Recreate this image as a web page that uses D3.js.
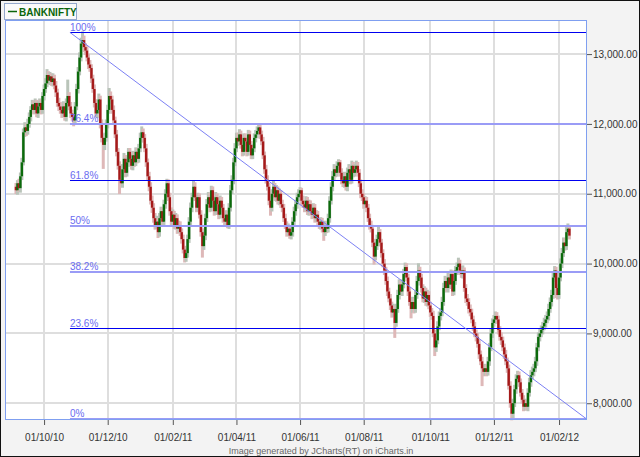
<!DOCTYPE html>
<html><head><meta charset="utf-8">
<script src="https://cdn.jsdelivr.net/npm/d3@7"></script>
<style>html,body{margin:0;padding:0;background:#fff}svg{display:block}</style>
</head><body>
<svg id="c" width="640" height="457"></svg>
<script>
// ---------------- DATA ----------------
const seriesName = "BANKNIFTY";
const firstTradingDay = "2010-09-06"; // candles are consecutive weekdays from here
const opens = [
11100,11050,11150,11080,11250,11450,11880,11950,11900,12000,
12100,12200,12280,12200,12300,12150,12250,12300,12200,12400,
12500,12580,12700,12620,12680,12600,12650,12550,12450,12300,
12250,12200,12150,12250,12100,12300,12400,12250,12150,12100,
12050,12250,12500,12750,12950,13150,13200,13100,13050,12950,
12850,12800,12650,12500,12300,12150,12200,12350,12000,11800,
11700,11800,12000,12200,12400,12350,12200,12050,11850,11600,
11400,11200,11150,11350,11500,11300,11450,11600,11500,11400,
11550,11450,11600,11500,11650,11800,11880,11800,11650,11450,
11250,11100,10900,10800,10650,10550,10600,10450,10650,10750,
10600,10850,11000,11150,10950,10750,10600,10700,10550,10650,
10500,10550,10450,10350,10200,10080,10150,10350,10600,10800,
10950,11100,10950,10800,10950,10700,10450,10250,10400,10650,
10850,10950,10800,11050,10900,10750,10950,10850,10700,10900,
10800,10650,10600,10700,10550,10800,11050,11200,11450,11650,
11800,11750,11850,11700,11600,11800,11750,11600,11850,11700,
11550,11650,11800,11850,11900,11950,11850,11750,11550,11350,
11200,11100,10900,10800,11000,11100,10950,11050,10900,11000,
10850,10800,10650,10550,10450,10500,10400,10450,10600,10750,
10850,10950,11000,11050,10900,10850,10800,10900,10750,10850,
10750,10700,10800,10650,10700,10600,10550,10600,10500,10450,
10550,10500,10650,10900,11100,11250,11350,11300,11400,11450,
11300,11200,11150,11250,11100,11300,11350,11200,11400,11300,
11350,11400,11300,11150,11000,10950,10850,10900,10800,10650,
10550,10500,10300,10100,10250,10350,10450,10300,10150,10000,
9900,9750,9600,9500,9400,9300,9350,9150,9350,9550,
9700,9600,9700,9850,9950,9800,9600,9450,9350,9450,
9350,9550,9750,9900,9800,9650,9500,9600,9450,9550,
9400,9300,9250,9000,8800,8900,9100,9250,9300,9450,
9650,9750,9650,9800,9700,9850,9600,9750,9900,9950,
10000,9900,9850,9900,9650,9500,9450,9350,9300,9200,
9100,9000,8950,8850,8700,8600,8500,8450,8500,8450,
8600,8800,9000,9150,9200,9250,9200,9050,8950,8900,
8800,8700,8600,8500,8250,8000,7850,8000,8200,8350,
8400,8300,8150,8050,7950,8000,7950,8150,8300,8400,
8450,8500,8600,8800,8950,9000,9050,9100,9150,9200,
9250,9350,9450,9550,9800,9900,9650,9550,9800,10000,
10150,10300,10250,10450,10500];
const highs = [
11140,11180,11200,11290,11500,11920,12010,11990,12060,12150,
12240,12330,12320,12350,12330,12310,12350,12340,12440,12550,
12640,12770,12740,12730,12710,12710,12690,12600,12490,12360,
12300,12240,12310,12290,12350,12620,12440,12300,12190,12130,
12300,12560,12800,13010,13220,13310,13250,13140,13100,12990,
12900,12840,12690,12550,12340,12250,12420,12390,12050,11840,
11860,12050,12260,12500,12450,12390,12250,12090,11900,11640,
11450,11250,11410,11570,11540,11510,11640,11640,11550,11600,
11590,11650,11640,11700,11860,11950,11920,11840,11700,11490,
11300,11150,10960,10850,10710,10670,10640,10710,10800,10790,
10900,11050,11200,11190,11000,10790,10760,10740,10710,10690,
10600,10590,10490,10400,10240,10200,10400,10650,10860,11000,
11180,11150,10990,11000,10990,10750,10490,10450,10700,10910,
11010,11000,11100,11090,10950,11010,10990,10900,10960,10940,
10840,10700,10750,10740,10850,11110,11250,11500,11710,11860,
11860,11910,11890,11750,11850,11850,11790,11900,11890,11740,
11700,11850,11900,11950,11990,11980,11890,11800,11590,11400,
11250,11140,10950,11050,11180,11140,11110,11090,11060,11040,
10900,10840,10700,10590,10560,10540,10500,10650,10800,10900,
11000,11050,11080,11070,10960,10890,10950,10940,10900,10890,
10790,10850,10840,10750,10740,10640,10650,10640,10540,10600,
10590,10700,10950,11150,11310,11410,11390,11450,11480,11470,
11350,11250,11300,11290,11360,11410,11390,11460,11440,11410,
11460,11440,11340,11190,11050,10990,10950,10940,10840,10700,
10600,10540,10340,10300,10400,10510,10480,10340,10190,10050,
9940,9800,9640,9550,9440,9410,9390,9410,9610,9760,
9740,9760,9910,10000,9990,9840,9650,9490,9510,9490,
9600,9810,9990,9940,9840,9690,9660,9640,9610,9590,
9440,9350,9310,9040,8950,9160,9300,9350,9510,9710,
9810,9790,9860,9840,9900,9890,9800,9950,10000,10070,
10040,9950,9960,9930,9690,9550,9490,9400,9340,9240,
9150,9040,8990,8900,8740,8650,8540,8550,8540,8650,
8850,9050,9200,9250,9300,9290,9240,9090,9000,8940,
8840,8750,8640,8540,8300,8040,8050,8250,8400,8450,
8440,8340,8190,8100,8050,8040,8200,8350,8460,8510,
8550,8650,8850,9000,9060,9100,9150,9210,9250,9300,
9410,9500,9610,9860,9950,9940,9690,9850,10060,10210,
10360,10350,10510,10560,10530];
const lows = [
11010,11000,11040,11030,11210,11420,11830,11840,11860,11960,
12050,12160,12150,12160,12110,12100,12210,12150,12160,12350,
12460,12540,12580,12570,12560,12550,12510,12400,12260,12200,
12160,12100,12110,12060,12050,12260,12210,12100,12060,11980,
12010,12210,12450,12710,12910,13100,13040,13000,12910,12800,
12760,12600,12460,12250,12110,12100,12160,11950,11750,11370,
11640,11760,11950,12160,12300,12160,12000,11810,11550,11360,
11010,11110,11100,11310,11250,11260,11400,11460,11360,11350,
11400,11410,11450,11460,11610,11750,11750,11610,11400,11210,
11050,10860,10740,10600,10500,10510,10380,10400,10610,10550,
10560,10800,10960,10910,10700,10560,10550,10510,10500,10440,
10450,10410,10300,10160,10030,10040,10100,10310,10560,10750,
10910,10910,10750,10760,10660,10400,10100,10210,10350,10610,
10810,10750,10760,10860,10700,10710,10800,10650,10660,10750,
10600,10560,10550,10520,10510,10760,11010,11150,11410,11610,
11700,11710,11660,11550,11560,11700,11550,11560,11650,11510,
11510,11610,11750,11810,11860,11800,11710,11510,11300,11160,
11060,10850,10700,10760,10950,10910,10900,10860,10850,10810,
10750,10610,10510,10400,10410,10370,10360,10400,10560,10700,
10800,10910,10960,10850,10810,10750,10760,10710,10700,10710,
10650,10660,10600,10610,10550,10510,10500,10460,10340,10410,
10450,10460,10600,10860,11050,11210,11250,11260,11350,11260,
11150,11110,11100,11060,11050,11260,11150,11160,11250,11260,
11300,11260,11110,10950,10910,10800,10810,10750,10610,10500,
10460,10250,10000,10060,10210,10300,10260,10100,9960,9850,
9710,9550,9460,9350,9240,9250,8950,9110,9310,9500,
9560,9550,9660,9800,9760,9550,9410,9230,9310,9300,
9310,9510,9700,9760,9600,9460,9450,9410,9400,9360,
9250,9210,8960,8690,8750,8860,9060,9200,9260,9410,
9600,9610,9600,9660,9650,9550,9560,9710,9850,9910,
9850,9810,9800,9610,9450,9410,9300,9260,9160,9050,
8960,8900,8810,8650,8560,8260,8400,8410,8400,8410,
8550,8760,8950,9110,9150,9160,9000,8910,8850,8760,
8650,8560,8450,8210,7950,7770,7800,7960,8150,8310,
8250,8110,8010,7900,7910,7910,7900,8110,8250,8360,
8400,8460,8550,8760,8900,8960,9000,9060,9100,9160,
9200,9310,9400,9510,9750,9520,9500,9510,9760,9950,
10110,10200,10210,10400,10360];
const closes = [
11050,11150,11080,11250,11450,11880,11950,11900,12000,12100,
12200,12280,12200,12300,12150,12250,12300,12200,12400,12500,
12580,12700,12620,12680,12600,12650,12550,12450,12300,12250,
12200,12150,12250,12100,12300,12400,12250,12150,12100,12050,
12250,12500,12750,12950,13150,13200,13100,13050,12950,12850,
12800,12650,12500,12300,12150,12200,12350,12000,11800,11700,
11800,12000,12200,12400,12350,12200,12050,11850,11600,11400,
11200,11150,11350,11500,11300,11450,11600,11500,11400,11550,
11450,11600,11500,11650,11800,11880,11800,11650,11450,11250,
11100,10900,10800,10650,10550,10600,10450,10650,10750,10600,
10850,11000,11150,10950,10750,10600,10700,10550,10650,10500,
10550,10450,10350,10200,10080,10150,10350,10600,10800,10950,
11100,10950,10800,10950,10700,10450,10250,10400,10650,10850,
10950,10800,11050,10900,10750,10950,10850,10700,10900,10800,
10650,10600,10700,10550,10800,11050,11200,11450,11650,11800,
11750,11850,11700,11600,11800,11750,11600,11850,11700,11550,
11650,11800,11850,11900,11950,11850,11750,11550,11350,11200,
11100,10900,10800,11000,11100,10950,11050,10900,11000,10850,
10800,10650,10550,10450,10500,10400,10450,10600,10750,10850,
10950,11000,11050,10900,10850,10800,10900,10750,10850,10750,
10700,10800,10650,10700,10600,10550,10600,10500,10450,10550,
10500,10650,10900,11100,11250,11350,11300,11400,11450,11300,
11200,11150,11250,11100,11300,11350,11200,11400,11300,11350,
11400,11300,11150,11000,10950,10850,10900,10800,10650,10550,
10500,10300,10100,10250,10350,10450,10300,10150,10000,9900,
9750,9600,9500,9400,9300,9350,9150,9350,9550,9700,
9600,9700,9850,9950,9800,9600,9450,9350,9450,9350,
9550,9750,9900,9800,9650,9500,9600,9450,9550,9400,
9300,9250,9000,8800,8900,9100,9250,9300,9450,9650,
9750,9650,9800,9700,9850,9600,9750,9900,9950,10000,
9900,9850,9900,9650,9500,9450,9350,9300,9200,9100,
9000,8950,8850,8700,8600,8500,8450,8500,8450,8600,
8800,9000,9150,9200,9250,9200,9050,8950,8900,8800,
8700,8600,8500,8250,8000,7850,8000,8200,8350,8400,
8300,8150,8050,7950,8000,7950,8150,8300,8400,8450,
8500,8600,8800,8950,9000,9050,9100,9150,9200,9250,
9350,9450,9550,9800,9900,9650,9550,9800,10000,10150,
10300,10250,10450,10500,10400];
const tickDates  = ["2010-10-01","2010-12-01","2011-02-01","2011-04-01","2011-06-01","2011-08-01","2011-10-01","2011-12-01","2012-02-01"];
const tickLabels = ["01/10/10","01/12/10","01/02/11","01/04/11","01/06/11","01/08/11","01/10/11","01/12/11","01/02/12"];
const yTicks = [8000, 9000, 10000, 11000, 12000, 13000];
const fibRatios = [1, 0.764, 0.618, 0.5, 0.382, 0.236, 0];
const fibLabels = ["100%", "76.4%", "61.8%", "50%", "38.2%", "23.6%", "0%"];
const fibAnchorIdx = [36.5, 385.9]; // start / end of the drawn Fibonacci tool (candle index)
const footerText = "Image generated by JCharts(RT) on iCharts.in";

// ---------------- LAYOUT / STYLE ----------------
const W = 640, H = 457;
const plot = {l: 5, t: 20, r: 587, b: 420};
const xPad = [7.4, 11.9];
const yDomain = [7760, 13488];
const upCol = "#0b6a0b", dnCol = "#a51a1a";
const fibDark = [true, false, true, false, false, true, false];

const svg = d3.select("#c");
const N = closes.length;

// trading-day dates (weekdays)
const dates = [];
{ let d = new Date(firstTradingDay + "T00:00:00Z");
  while (dates.length < N) { const wd = d.getUTCDay(); if (wd !== 0 && wd !== 6) dates.push(new Date(d)); d.setUTCDate(d.getUTCDate() + 1); } }
const tickIdx = tickDates.map(s => { const t = new Date(s + "T00:00:00Z"); return dates.findIndex(d => d >= t); });

const x = d3.scaleLinear().domain([-xPad[0], N - 1 + xPad[1]]).range([plot.l, plot.r]);
const y = d3.scaleLinear().domain(yDomain).range([plot.b, plot.t]);

// background
svg.append("rect").attr("width", W).attr("height", H).attr("fill", "#f3f3f3");
svg.append("rect").attr("x", 0.5).attr("y", 0.5).attr("width", W - 1).attr("height", H - 1)
  .attr("fill", "none").attr("stroke", "#111");
svg.append("rect").attr("x", plot.l).attr("y", plot.t).attr("width", plot.r - plot.l).attr("height", plot.b - plot.t).attr("fill", "#fff");

// grid
const g = svg.append("g");
g.selectAll(".vg").data(tickIdx).join("line")
  .attr("x1", d => Math.round(x(d))).attr("x2", d => Math.round(x(d)))
  .attr("y1", plot.t).attr("y2", plot.b).attr("stroke", "#dedede").attr("stroke-width", 2);
g.selectAll(".hg").data(yTicks).join("line")
  .attr("x1", plot.l).attr("x2", plot.r)
  .attr("y1", d => Math.round(y(d))).attr("y2", d => Math.round(y(d))).attr("stroke", "#dedede").attr("stroke-width", 2);

// candles
const idx = d3.range(N);
const cg = svg.append("g");
cg.selectAll(".wick").data(idx).join("line")
  .attr("x1", i => x(i)).attr("x2", i => x(i))
  .attr("y1", i => y(highs[i]) - 1).attr("y2", i => y(lows[i]) + 1)
  .attr("stroke", i => closes[i] >= opens[i] ? "#b9c4b9" : "#deb8b8").attr("stroke-width", 3);
cg.selectAll(".body").data(idx).join("rect")
  .attr("x", i => x(i) - 1.2).attr("width", 2.4)
  .attr("y", i => y(Math.max(opens[i], closes[i])))
  .attr("height", i => Math.max(1.5, Math.abs(y(opens[i]) - y(closes[i]))))
  .attr("fill", i => closes[i] >= opens[i] ? upCol : dnCol);

// fibonacci
const fHi = d3.max(highs), fLo = d3.min(lows);
const fg = svg.append("g");
fibRatios.forEach((r, k) => {
  const v = fLo + r * (fHi - fLo);
  let yy = y(v);
  const dark = fibDark[k];
  yy = dark ? Math.round(yy) + 0.5 : Math.round(yy);
  fg.append("line").attr("x1", x(fibAnchorIdx[0])).attr("x2", x(fibAnchorIdx[1]))
    .attr("y1", yy).attr("y2", yy)
    .attr("stroke", dark ? "#0000f0" : "#9a9cf6").attr("stroke-width", dark ? 1.2 : 2);
  fg.append("text").attr("x", x(fibAnchorIdx[0])).attr("y", yy - 2)
    .attr("font-family", "Liberation Sans, Arial, sans-serif").attr("font-size", 10)
    .attr("fill", "#6a6cf0").text(fibLabels[k]);
});
fg.append("line")
  .attr("x1", x(fibAnchorIdx[0])).attr("y1", y(fHi))
  .attr("x2", x(fibAnchorIdx[1])).attr("y2", y(fLo))
  .attr("stroke", "#7c80f4").attr("stroke-width", 1);

// plot border
svg.append("rect").attr("x", plot.l + 0.5).attr("y", plot.t + 0.5)
  .attr("width", plot.r - plot.l - 1).attr("height", plot.b - plot.t - 1)
  .attr("fill", "none").attr("stroke", "#7f9ff0").attr("stroke-width", 1);

// axes
const font = "Liberation Sans, Arial, sans-serif";
const ya = svg.append("g").attr("transform", `translate(${plot.r},0)`)
  .call(d3.axisRight(y).tickValues(yTicks).tickFormat(d3.format(",.2f")).tickSize(5).tickPadding(1));
ya.select(".domain").remove();
ya.selectAll("line").attr("stroke", "#555");
ya.selectAll("text").attr("font-family", font).attr("font-size", 10).attr("fill", "#333");

const xa = svg.append("g").attr("transform", `translate(0,${plot.b})`)
  .call(d3.axisBottom(x).tickValues(tickIdx).tickFormat((d, i) => tickLabels[i]).tickSize(5).tickPadding(9));
xa.select(".domain").remove();
xa.selectAll("line").attr("stroke", "#555");
xa.selectAll("text").attr("font-family", font).attr("font-size", 10).attr("fill", "#333");

// legend
const lg = svg.append("g");
lg.append("rect").attr("x", 4.5).attr("y", 3.5).attr("width", 72).attr("height", 16)
  .attr("fill", "#fafafa").attr("stroke", "#94a8cc");
lg.append("line").attr("x1", 8).attr("x2", 17).attr("y1", 11.5).attr("y2", 11.5).attr("stroke", "#0a650a").attr("stroke-width", 1.5);
lg.append("text").attr("x", 19).attr("y", 15.5).attr("font-family", font).attr("font-size", 10)
  .attr("font-weight", "bold").attr("fill", "#0a650a").text(seriesName);

// footer
svg.append("text").attr("x", 321).attr("y", 454).attr("text-anchor", "middle")
  .attr("font-family", font).attr("font-size", 9).attr("fill", "#666").text(footerText);
</script>
</body></html>
